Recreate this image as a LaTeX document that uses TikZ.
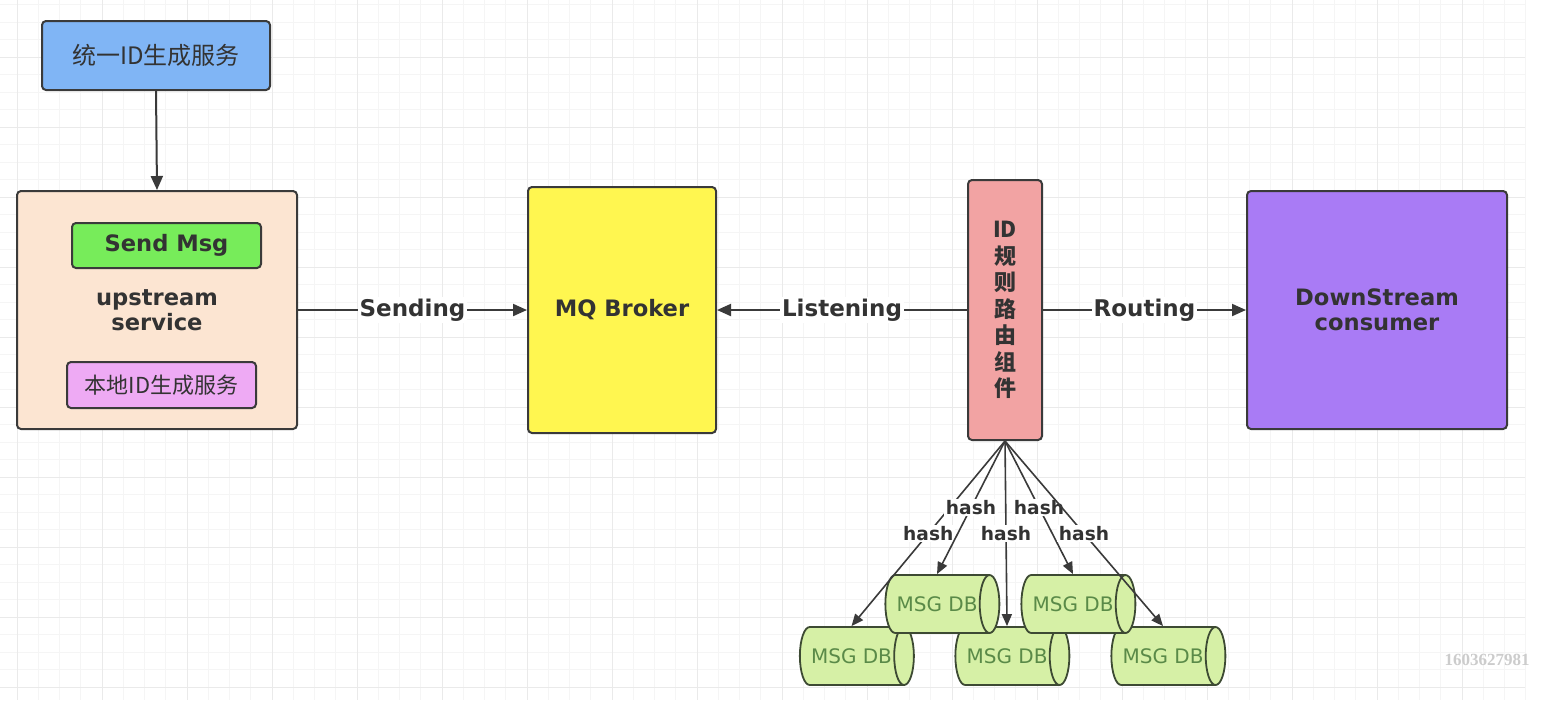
\documentclass[tikz,border=0pt]{standalone}
\usepackage{fontspec}
\setmainfont{DejaVu Sans}
\newfontfamily\cjk{Noto Sans CJK SC}
\newfontfamily\wmfont{Liberation Serif}
\usetikzlibrary{arrows.meta,shapes.geometric}
\definecolor{boxline}{HTML}{3A3A3A}
\definecolor{linec}{HTML}{3A3A3A}
\definecolor{txtdark}{HTML}{333333}
\definecolor{bluefill}{HTML}{80B5F5}
\definecolor{peachfill}{HTML}{FCE5D2}
\definecolor{greenfill}{HTML}{77EC5A}
\definecolor{pinkfill}{HTML}{EEAAF4}
\definecolor{yellowfill}{HTML}{FFF650}
\definecolor{redfill}{HTML}{F2A3A3}
\definecolor{purplefill}{HTML}{A97BF5}
\definecolor{cylfill}{HTML}{D6F0A6}
\definecolor{cylline}{HTML}{3D4A33}
\definecolor{cyltext}{HTML}{5A8A48}
\definecolor{gridminor}{HTML}{F5F5F5}
\definecolor{gridmajor}{HTML}{EAEAEA}
\begin{document}
\begin{tikzpicture}[x=0.5pt,y=-0.5pt,
  box/.style={draw=boxline, line width=1pt, rounded corners=2pt, align=center, inner sep=0pt},
  boldtxt/.style={font=\bfseries\fontsize{11.3}{12.5}\selectfont},
  lbl/.style={font=\bfseries\fontsize{11.5}{13}\selectfont, text=txtdark, fill=white, inner sep=1pt},
  hashlbl/.style={font=\bfseries\fontsize{9.3}{11}\selectfont, text=txtdark, fill=white, inner sep=0.8pt},
  conn/.style={draw=linec, line width=1pt, -{Triangle[length=7pt,width=6pt]}},
  hconn/.style={draw=linec, line width=0.8pt, -{Triangle[length=6pt,width=5pt]}},
  db/.style={cylinder, shape border rotate=0, aspect=1.3, draw=cylline, fill=cylfill,
    line width=0.9pt, minimum height=57pt, minimum width=29pt, inner sep=0pt,
    font=\fontsize{10}{11}\selectfont, text=cyltext}
]
\useasboundingbox (0,0) rectangle (1556,720);
\fill[white] (0,0) rectangle (1556,720);
% grid
\foreach \i in {0,...,72} {\draw[gridminor, line width=0.4pt] ({-4.25+21.25*\i},0) -- ({-4.25+21.25*\i},700);}
\foreach \j in {0,...,39} {\draw[gridminor, line width=0.4pt] (0,{4.5+17.5*\j}) -- (1525,{4.5+17.5*\j});}
\foreach \i in {0,...,17} {\draw[gridmajor, line width=0.5pt] ({17+85*\i},0) -- ({17+85*\i},700);}
\foreach \j in {0,...,9} {\draw[gridmajor, line width=0.5pt] (0,{57+70*\j}) -- (1525,{57+70*\j});}

% nodes
\node[box, fill=bluefill, minimum width=114pt, minimum height=34.5pt,
  font=\cjk\fontsize{12}{14}\selectfont, text=txtdark] (uid) at (156,55.5) {统一ID生成服务};
\node[box, fill=peachfill, minimum width=140pt, minimum height=119pt, boldtxt, text=txtdark]
  (up) at (157,310) {upstream\\service};
\node[box, fill=greenfill, minimum width=94.5pt, minimum height=22.5pt, boldtxt, text=txtdark]
  (send) at (166.5,245.5) {Send Msg};
\node[box, fill=pinkfill, minimum width=94.5pt, minimum height=23pt,
  font=\cjk\fontsize{11}{13}\selectfont, text=txtdark] (local) at (161.5,385) {本地ID生成服务};
\node[box, fill=yellowfill, minimum width=94pt, minimum height=123pt, boldtxt, text=txtdark]
  (mq) at (622,310) {MQ Broker};
\node[box, fill=redfill, minimum width=37pt, minimum height=130pt,
  font=\cjk\bfseries\fontsize{11}{13.25}\selectfont, text=txtdark]
  (router) at (1005,310) {ID\\规\\则\\路\\由\\组\\件};
\node[box, fill=purplefill, minimum width=130pt, minimum height=119pt, boldtxt, text=txtdark]
  (down) at (1377,310) {DownStream\\consumer};

% cylinders
\node[db] (dbA) at (851.5,656) {MSG DB\hspace{9pt}};
\node[db] (dbC) at (1007,656) {MSG DB\hspace{9pt}};
\node[db] (dbE) at (1163,656) {MSG DB\hspace{9pt}};
\node[db] (dbB) at (937,604) {MSG DB\hspace{9pt}};
\node[db] (dbD) at (1073,604) {MSG DB\hspace{9pt}};

% connectors
\draw[conn] (uid.south) -- (up.north);
\draw[conn] (up.east) -- node[lbl] {Sending} (mq.west);
\draw[conn] (router.west) -- node[lbl] {Listening} (mq.east);
\draw[conn] (router.east) -- node[lbl] {Routing} (down.west);
\draw[hconn] (router.south) -- node[hashlbl] {hash} (dbA.north);
\draw[hconn] (router.south) -- node[hashlbl] {hash} (dbB.north);
\draw[hconn] (router.south) -- node[hashlbl, pos=0.5] {hash} (dbC.north);
\draw[hconn] (router.south) -- node[hashlbl] {hash} (dbD.north);
\draw[hconn] (router.south) -- node[hashlbl] {hash} (dbE.north);

% watermark
\node[font=\wmfont\bfseries\fontsize{8.5}{10}\selectfont, text=black!20] (wm) at (1487,660) {1603627981};
\end{tikzpicture}
\end{document}
